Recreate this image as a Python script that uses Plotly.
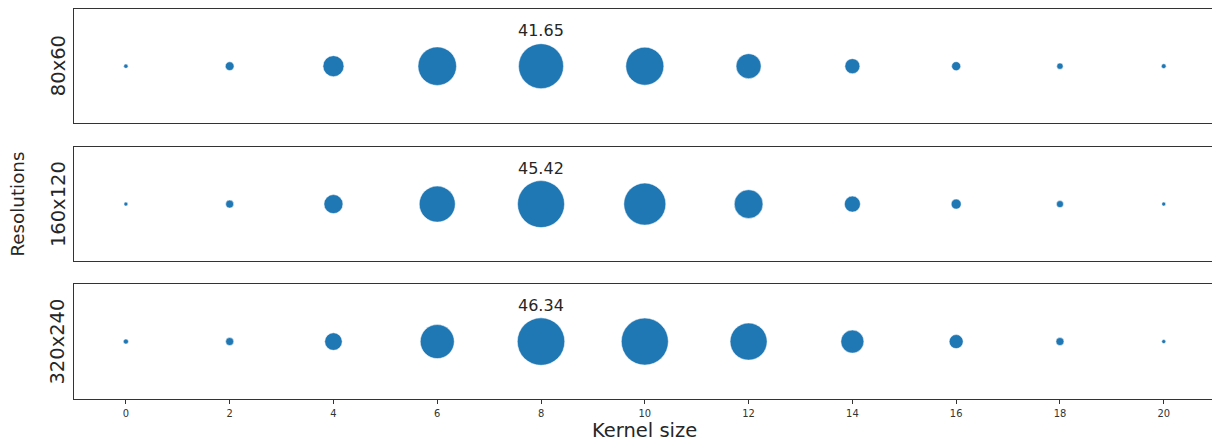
import plotly.graph_objects as go

# Kernel sizes on the shared x axis
kernel_sizes = [0, 2, 4, 6, 8, 10, 12, 14, 16, 18, 20]

# Input resolutions, one panel each (top to bottom)
resolutions = ["80x60", "160x120", "320x240"]

# Bubble score per kernel size for each resolution (encoded as bubble area)
scores_80x60 = [0.38, 1.56, 9.08, 30.5, 41.65, 29.7, 12.9, 4.64, 1.67, 0.82, 0.46]
scores_160x120 = [0.33, 1.32, 7.44, 26.7, 45.42, 36.3, 17.0, 5.27, 2.06, 1.01, 0.33]
scores_320x240 = [0.52, 1.32, 6.31, 23.8, 46.34, 45.5, 28.2, 10.9, 4.04, 1.32, 0.33]

# Kernel size whose score is written above the bubble
best_kernel = 8

x_ticks = [0, 2, 4, 6, 8, 10, 12, 14, 16, 18, 20]

series = [scores_80x60, scores_160x120, scores_320x240]

BLUE = "#1f77b4"
INK = "#262626"
SPINE = "#333333"
SIZEREF = 0.0412

# Panel layout in paper coordinates (top to bottom)
domains = [[0.7068, 1.0], [0.3534, 0.6461], [0.0, 0.2945]]

fig = go.Figure()
annotations = []

for i, (name, vals) in enumerate(zip(resolutions, series)):
    n = i + 1
    xa = "x" if n == 1 else f"x{n}"
    ya = "y" if n == 1 else f"y{n}"
    fig.add_trace(go.Scatter(
        x=kernel_sizes,
        y=[0] * len(kernel_sizes),
        mode="markers",
        marker=dict(
            size=vals,
            sizemode="area",
            sizeref=SIZEREF,
            sizemin=0,
            color=BLUE,
            opacity=1,
            line=dict(color="white", width=0.5),
        ),
        xaxis=xa,
        yaxis=ya,
        showlegend=False,
        hoverinfo="skip",
    ))

    last = n == len(resolutions)
    fig.layout[f"xaxis{'' if n == 1 else n}"] = dict(
        domain=[0, 1],
        anchor=ya,
        range=[-1, 20.93],
        showline=True,
        linecolor=SPINE,
        linewidth=1,
        mirror=True,
        showgrid=False,
        zeroline=False,
        ticks="outside" if last else "",
        ticklen=4,
        tickwidth=1,
        tickcolor=SPINE,
        tickvals=x_ticks if last else [],
        showticklabels=last,
        tickfont=dict(family="Liberation Sans Narrow, DejaVu Sans Condensed, sans-serif",
                      size=11, color=SPINE),
        matches=None if n == 1 else "x",
    )
    fig.layout[f"yaxis{'' if n == 1 else n}"] = dict(
        domain=domains[i],
        anchor=xa,
        range=[-1, 1],
        showline=True,
        linecolor=SPINE,
        linewidth=1,
        mirror=False,
        showgrid=False,
        zeroline=False,
        ticks="",
        showticklabels=False,
        fixedrange=True,
    )

    # Resolution name to the left of each panel
    annotations.append(dict(
        text=name,
        xref="paper", x=0, xshift=-16, xanchor="center",
        yref=f"{ya} domain", y=0.5, yanchor="middle",
        textangle=-90,
        showarrow=False,
        font=dict(family="DejaVu Sans", size=19.5, color=INK),
    ))

    # Score written above the highlighted kernel size
    idx = kernel_sizes.index(best_kernel)
    annotations.append(dict(
        text=f"{vals[idx]:.2f}",
        xref=xa, x=best_kernel, xanchor="center",
        yref=ya, y=0, yshift=36, yanchor="middle",
        showarrow=False,
        font=dict(family="DejaVu Sans", size=16, color=INK),
    ))

# Shared axis titles
annotations.append(dict(
    text="Kernel size",
    xref="x3", x=10, xanchor="center",
    yref="y3 domain", y=0, yshift=-31, yanchor="middle",
    showarrow=False,
    font=dict(family="DejaVu Sans", size=19.5, color=INK),
))
annotations.append(dict(
    text="Resolutions",
    xref="paper", x=0, xshift=-56.5, xanchor="center",
    yref="y2 domain", y=0.5, yanchor="middle",
    textangle=-90,
    showarrow=False,
    font=dict(family="DejaVu Sans", size=18.3, color=INK),
))

fig.update_layout(
    width=1212,
    height=441,
    margin=dict(l=74, r=0, t=8.5, b=42, pad=0),
    paper_bgcolor="white",
    plot_bgcolor="white",
    annotations=annotations,
)

fig.write_html("out.html")
